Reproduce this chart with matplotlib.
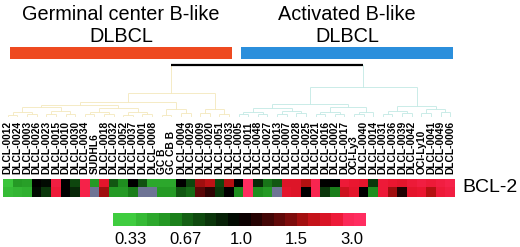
import numpy as np
import matplotlib
matplotlib.use("Agg")
import matplotlib.pyplot as plt
from matplotlib.colors import LinearSegmentedColormap, Normalize

plt.rcParams['font.family'] = ['Liberation Sans', 'DejaVu Sans']

# ---------------- data ----------------
samples = ["DLCL-0012", "DLCL-0024", "DLCL-0003", "DLCL-0026", "DLCL-0023", "DLCL-0015",
           "DLCL-0010", "DLCL-0030", "DLCL-0034", "SUDHL6", "DLCL-0018", "DLCL-0032",
           "DLCL-0052", "DLCL-0037", "DLCL-0001", "DLCL-0008", "GC B", "GC CB B",
           "DLCL-0004", "DLCL-0029", "DLCL-0009", "DLCL-0020", "DLCL-0051", "DLCL-0033",
           "DLCL-0005", "DLCL-0011", "DLCL-0048", "DLCL-0027", "DLCL-0013", "DLCL-0007",
           "DLCL-0028", "DLCL-0025", "DLCL-0021", "DLCL-0016", "DLCL-0002", "DLCL-0017",
           "OCI-Ly3", "DLCL-0040", "DLCL-0014", "DLCL-0031", "DLCL-0036", "DLCL-0039",
           "DLCL-0042", "OCI-Ly10", "DLCL-0041", "DLCL-0049", "DLCL-0006"]

nan = np.nan
bcl2_row1 = [0.35, 0.50, 0.48, 1.00, 0.95, 2.6, 1.0, 0.75, 2.7, 0.50, 2.3, 0.70,
             0.55, 1.0, 0.72, 0.45, 0.45, 0.45, 1.0, 0.75, 1.6, 1.8, 0.75, 1.7,
             1.0, 3.0, 0.85, 0.62, 0.70, 2.2, 2.2, 1.7, 2.8, 1.0, 1.0, 2.5,
             2.4, 2.3, 0.80, 2.5, 2.4, 2.3, 2.5, 2.6, 2.5, 2.6, 2.7]
bcl2_row2 = [0.38, 0.40, 0.42, 0.95, 0.80, 2.5, 1.0, 0.85, 2.7, nan, 1.6, 0.50,
             0.50, 0.60, nan, nan, 0.50, 0.50, 0.70, 0.65, 1.3, 1.15, 0.80, 1.0,
             0.55, 3.0, 0.55, 0.50, nan, 2.3, 2.2, 1.0, 2.8, 0.80, 0.60, 2.0,
             2.3, 1.0, 0.55, 2.5, 1.6, 1.1, 2.3, 2.4, 1.7, 2.5, 2.6]

groups = ["Germinal center B-like\nDLBCL", "Activated B-like\nDLBCL"]
group_first = [0, 24]
group_last = [23, 46]
group_colors = ["#ee4a20", "#2b8fdc"]

colorbar_ticks = [0.33, 0.67, 1.0, 1.5, 3.0]
colorbar_labels = ["0.33", "0.67", "1.0", "1.5", "3.0"]

# dendrogram: (height, left, right); ints are leaf indices
gc_tree = (4.7,
           (2.9,
            (2.3,
             (1.9, (1.0, (0.45, 0, 1), (0.55, 2, 3)), (1.2, (0.5, 4, 5), (0.65, 6, 7))),
             (1.7, (0.9, (0.5, 8, 9), (0.6, 10, 11)), (1.0, (0.45, 12, 13), (0.55, 14, 15)))),
            (1.6, (0.3, 16, 17), (0.7, 18, 19))),
           (1.5, (0.8, 20, 21), (0.6, 22, 23)))
abc_tree = (5.8,
            (2.6,
             (1.8, (1.0, (0.5, 24, 25), (0.6, 26, 27)), (1.1, (0.5, 28, 29), (0.7, 30, 31))),
             (1.9, (0.9, (0.5, 32, 33), (0.6, 34, 35)), (1.0, (0.5, 36, 37), 38))),
            (2.2, (1.2, (0.6, 39, 40), (0.7, 41, 42)), (1.6, (0.8, 43, 44), (1.0, 45, 46))))
root_height = 10.0

# ---------------- figure ----------------
W, H = 520, 247
fig = plt.figure(figsize=(W / 100, H / 100), dpi=100)

def px_axes(x0, y0, x1, y1):
    return fig.add_axes([x0 / W, 1 - y1 / H, (x1 - x0) / W, (y1 - y0) / H])

n = len(samples)
cmap = LinearSegmentedColormap.from_list(
    "gbr", [(0.0, "#3fcc3f"), (0.25, "#1d8a1d"), (0.5, "#000000"),
            (0.75, "#b81212"), (0.9, "#ea1630"), (1.0, "#ff2d60")])
cmap.set_bad("#6e7495")
norm = Normalize(vmin=np.log2(0.33), vmax=np.log2(3.0))

# heatmap
axh = px_axes(3, 178.5, 455, 197)
data = np.log2(np.array([bcl2_row1, bcl2_row2], dtype=float))
axh.imshow(np.ma.masked_invalid(data), cmap=cmap, norm=norm, aspect="auto",
           interpolation="nearest", extent=(-0.5, n - 0.5, 1.5, -0.5))
axh.set_xlim(-0.5, n - 0.5)
axh.xaxis.tick_top()
axh.set_xticks(np.arange(n))
axh.set_xticklabels(samples, rotation=90, fontsize=7.4, fontweight="bold")
axh.tick_params(axis="x", length=0, pad=3.5)
axh.set_yticks([])
for s in axh.spines.values():
    s.set_visible(False)
axh.text(1.0155, 0.5, "BCL-2", transform=axh.transAxes, ha="left", va="center",
         fontsize=14)

# dendrogram
axd = px_axes(3, 60, 455, 117)
axd.set_xlim(-0.5, n - 0.5)
axd.set_ylim(0, 11)
axd.axis("off")

GC_LINE = "#f4e8bc"
ABC_LINE = "#c2e9e4"

def draw(node, color):
    if isinstance(node, int):
        return float(node), 0.0
    h, l, r = node
    xl, hl = draw(l, color)
    xr, hr = draw(r, color)
    axd.plot([xl, xl], [hl, h], color=color, lw=0.6, solid_capstyle="butt")
    axd.plot([xr, xr], [hr, h], color=color, lw=0.6, solid_capstyle="butt")
    axd.plot([xl, xr], [h, h], color=color, lw=0.6, solid_capstyle="butt")
    return (xl + xr) / 2, h

xg, hg = draw(gc_tree, GC_LINE)
xa, ha = draw(abc_tree, ABC_LINE)
axd.plot([xg, xg], [hg, root_height], color=GC_LINE, lw=0.6)
axd.plot([xa, xa], [ha, root_height], color=ABC_LINE, lw=0.6)
axd.plot([xg, xa], [root_height, root_height], color="black", lw=1.6,
         solid_capstyle="butt")

# group bars and titles
axt = px_axes(3, 0, 455, 62)
axt.set_xlim(-0.5, n - 0.5)
axt.set_ylim(62, 0)
axt.axis("off")
for name, f, l, c in zip(groups, group_first, group_last, group_colors):
    start = f - 0.5 + 0.72
    end = l + 0.5 - 0.18
    axt.broken_barh([(start, end - start)], (47.5, 11.5), facecolors=c)
    line1, line2 = name.split("\n")
    cx = (start + end) / 2
    axt.text(cx, 20, line1, ha="center", va="baseline", fontsize=14.3)
    axt.text(cx, 42, line2, ha="center", va="baseline", fontsize=14.3)

# colour scale
axc = px_axes(113, 213, 366, 226)
nblocks = 22
lo, hi = -0.31, 4.25
edges = np.linspace(lo, hi, nblocks + 1)
centers = (edges[:-1] + edges[1:]) / 2
vals = np.interp(centers, np.arange(len(colorbar_ticks)), np.log2(colorbar_ticks))
axc.imshow(vals[np.newaxis, :], cmap=cmap, norm=norm, aspect="auto",
           interpolation="nearest", extent=(lo, hi, 0, 1))
axc.set_xlim(lo, hi)
axc.set_xticks(np.arange(len(colorbar_ticks)))
axc.set_xticklabels(colorbar_labels, fontsize=12)
axc.tick_params(axis="x", length=0, pad=4)
axc.set_yticks([])
for s in axc.spines.values():
    s.set_visible(False)

fig.savefig("out.png", dpi=100)
